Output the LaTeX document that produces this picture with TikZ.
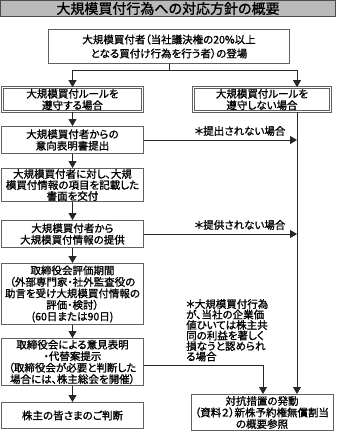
\documentclass[tikz,border=0pt]{standalone}
\usepackage{fontspec}
\setmainfont{Noto Sans CJK JP}[RawFeature={+palt;embolden=1.2}]
\usepackage{tikz}
\usetikzlibrary{arrows.meta, positioning, calc}

\begin{document}
\begin{tikzpicture}[x=1pt, y=-1pt,
  box/.style={draw=gray!75!black, line width=1pt, fill=white, inner sep=0pt,
    align=center, minimum width=142, font=\fontsize{10.5}{11.5}\selectfont},
  dbox/.style={box, line width=0.8pt, double=white, double distance=1.2pt, minimum width=140},
  arr/.style={-{Triangle[width=8pt,length=7pt]}, black!85, line width=0.8pt},
  lbl/.style={inner sep=0pt, font=\fontsize{10.5}{10.5}\selectfont}]
  \useasboundingbox (0,0) rectangle (337,433);
  % 見出し
  \node[draw=black!70, fill=gray!55, line width=0.8pt, minimum width=335, minimum height=16,
    inner sep=0pt, font=\fontsize{14}{14}\selectfont] (title) at (168,8.5) {大規模買付行為への対応方針の概要};
  % 大規模買付者の登場
  \node[box, minimum width=241, minimum height=34, font=\fontsize{10.5}{14}\selectfont] (top) at (169,46.5)
    {大規模買付者（当社議決権の20\%以上\\となる買付け行為を行う者）の登場};
  % ルールを遵守する場合／しない場合
  \node[dbox, minimum height=24] (keep) at (72.5,99.5) {大規模買付ルールを\\遵守する場合};
  \node[dbox, minimum width=137, minimum height=24] (break) at (262,99.5) {大規模買付ルールを\\遵守しない場合};
  % 左の流れ
  \node[box, minimum height=27] (intent) at (72.5,140) {大規模買付者からの\\意向表明書提出};
  \node[box, minimum height=33, font=\fontsize{10.5}{11}\selectfont] (paper) at (72.5,185)
    {大規模買付者に対し、大規\\模買付情報の項目を記載した\\書面を交付};
  \node[box, minimum height=27] (info) at (72.5,234) {大規模買付者から\\大規模買付情報の提供};
  \node[box, minimum height=61] (eval) at (72.5,294)
    {取締役会評価期間\\（外部専門家・社外監査役の\\助言を受け大規模買付情報の\\評価・検討）\\(60日または90日)};
  \node[box, minimum height=47] (opinion) at (72.5,362)
    {取締役会による意見表明\\・代替案提示\\（取締役会が必要と判断した\\場合には、株主総会を開催）};
  \node[box, minimum height=26] (judge) at (72.5,415.5) {株主の皆さまのご判断};
  % 対抗措置
  \node[box, minimum height=36] (counter) at (262,412.5)
    {対抗措置の発動\\（資料２）新株予約権無償割当\\の概要参照};
  % 分岐
  \coordinate (fork) at ($(top.south)+(0,6)$);
  \coordinate (rline) at (297,0);
  \coordinate (mline) at (263,0);
  \draw[black!85, line width=0.8pt] (top.south) -- (fork);
  \draw[arr] (fork) -| (keep.north);
  \draw[arr] (fork) -| (rline |- break.north);
  % 縦の矢印
  \draw[arr] (keep) -- (intent);
  \draw[arr] (intent) -- (paper);
  \draw[arr] (paper) -- (info);
  \draw[arr] (info) -- (eval);
  \draw[arr] (eval) -- (opinion);
  \draw[arr] (opinion) -- (judge);
  % 右側の線
  \draw[arr] (rline |- break.south) -- (rline |- counter.north);
  \draw[arr] (intent.east) -- (intent.east -| rline);
  \draw[arr] (info.east) -- (info.east -| rline);
  \draw[arr] ($(opinion.east)+(0,3)$) -| (mline |- counter.north);
  % 注記
  \node[lbl] (noplan) at (240,131) {＊提出されない場合};
  \node[lbl] (noinfo) at (240,225) {＊提供されない場合};
  \node[lbl, anchor=north west, align=left] (harm) at (186,299)
    {＊大規模買付行為\\が、当社の企業価\\値ひいては株主共\\同の利益を著しく\\損なうと認められ\\る場合};
\end{tikzpicture}
\end{document}
